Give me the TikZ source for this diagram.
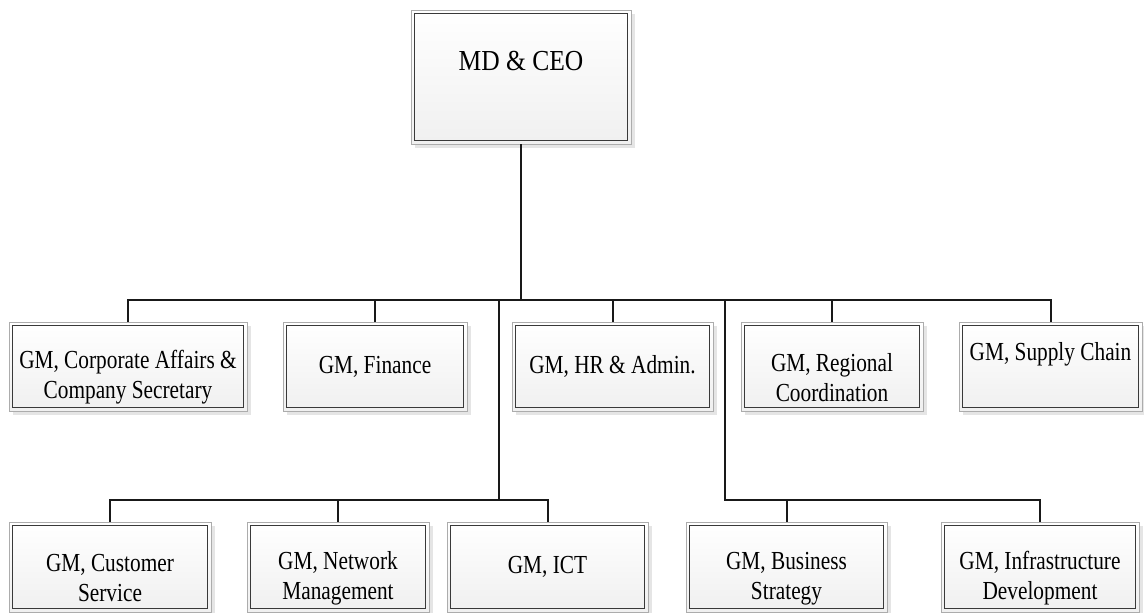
\documentclass[tikz,border=0pt]{standalone}
\usepackage{fontspec}
\setmainfont{Liberation Serif}[FakeStretch=0.82]
\newfontfamily\ceofont{Liberation Serif}[FakeStretch=0.88]
\usetikzlibrary{shadows}
\newcommand\lowline{\rule{0pt}{40pt}}
\tikzset{
  unit box/.style={draw=gray!65, line width=0.7pt,
    top color=white, bottom color=gray!12, align=center, inner sep=2pt,
    drop shadow={shadow xshift=3.5pt, shadow yshift=-3.5pt, fill=gray!20, opacity=1},
    font=\fontsize{26}{30}\selectfont},
  inner frame/.style={draw=gray!45!black, line width=0.8pt},
  row one/.style={unit box, minimum height=89pt},
  row two/.style={unit box, minimum height=90pt},
  link/.style={line width=2pt, gray!20!black}
}

\begin{document}
\begin{tikzpicture}[x=1pt,y=-1pt]
    \useasboundingbox (0,0) rectangle (1144,613);
    \node[unit box, minimum width=220pt, minimum height=134pt, font=\ceofont\fontsize{29}{33}\selectfont] (ceo) at (521,77) {MD \& CEO\\ \mbox{}};
      \node[row one, minimum width=238pt] (corp) at (128,366.5) {\lowline GM, Corporate Affairs \&\\Company Secretary};
      \node[row one, minimum width=184pt] (fin) at (375,366.5) {GM, Finance};
      \node[row one, minimum width=201pt] (hr) at (612.5,366.5) {GM, HR \& Admin.};
      \node[row one, minimum width=182pt] (reg) at (832,366.5) {\lowline GM, Regional\\Coordination};
      \node[row one, minimum width=183pt] (sup) at (1050.5,366.5) {GM, Supply Chain\\ \mbox{}};
      \node[row two, minimum width=202pt] (cust) at (110,567) {\lowline GM, Customer\\Service};
      \node[row two, minimum width=182pt] (net) at (338,567) {\lowline GM, Network\\Management};
      \node[row two, minimum width=201pt] (ict) at (547.5,567) {GM, ICT};
      \node[row two, minimum width=201pt] (strat) at (786.5,567) {\lowline GM, Business\\Strategy};
      \node[row two, minimum width=198pt] (infra) at (1040,567) {\lowline GM, Infrastructure\\Development};
    \foreach \n in {ceo,corp,fin,hr,reg,sup,cust,net,ict,strat,infra}
      \draw[inner frame] ([xshift=3.5pt,yshift=-3.5pt]\n.north west) rectangle ([xshift=-3.5pt,yshift=3.5pt]\n.south east);
    \coordinate (top bus) at (521,300);
    \coordinate (left drop) at (499,300);
    \coordinate (right drop) at (725,300);
    \coordinate (left bus) at (499,500);
    \coordinate (right bus) at (725,500);
    \draw[link] (ceo.south) -- (top bus);
    \draw[link] (corp.north) |- (top bus) -| (sup.north);
    \foreach \n in {fin,hr,reg}
      \draw[link] (\n.north) -- (\n.north |- top bus);
    \draw[link] (left drop) -- (left bus);
    \draw[link] (cust.north) |- (left bus) -| (ict.north);
    \draw[link] (net.north) -- (net.north |- left bus);
    \draw[link] (right drop) -- (right bus) -| (infra.north);
    \draw[link] (strat.north) -- (strat.north |- right bus);
\end{tikzpicture}
\end{document}
